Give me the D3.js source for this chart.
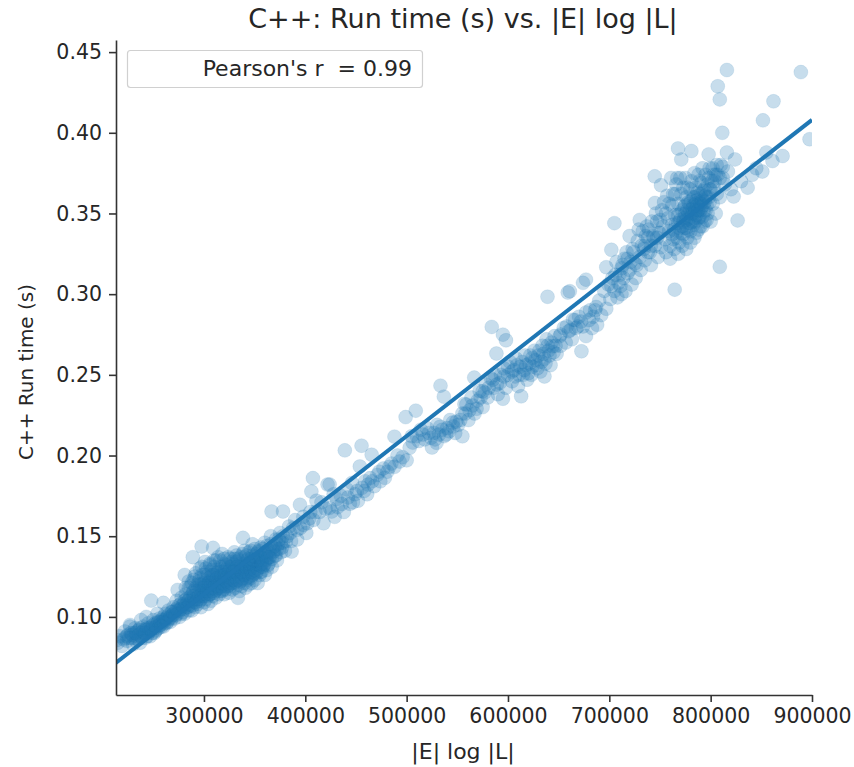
<!DOCTYPE html>
<html>
<head>
<meta charset="utf-8">
<script src="https://cdn.jsdelivr.net/npm/d3@7"></script>
<style>
body { margin: 0; background: #fff; }
text { font-family: "DejaVu Sans", sans-serif; fill: #262626; white-space: pre; }
</style>
</head>
<body>
<svg id="chart" width="854" height="767"></svg>
<script>
// [ |E| log |L| in thousands, C++ run time in s ]
var startPoints = [[215,.084],[217,.088],[219,.082],[221,.086],[222,.091],[224,.085],[225,.089],[227,.094],[228,.087],[230,.083],[231,.09],[232,.093],[234,.088],[235,.086],[236,.092],[238,.09],[239,.087],[240,.094],[241,.089],[243,.092],[244,.088],[245,.096],[246,.091],[248,.094],[249,.09],[250,.098],[251,.093],[252,.091],[254,.096],[255,.093],[256,.099],[257,.095],[259,.097],[260,.094],[248,.1101],[260,.1087],[254,.102],[227,.095],[214,.0857],[238,.098],[243,.1],[233,.085],[237,.084],[242,.087],[247,.088],[252,.096],[224,.088],[228,.09],[231,.087],[234,.091],[238,.088],[241,.092],[245,.09],[249,.093],[253,.092],[256,.095],[258,.098],[260,.097]];
var lowPoints = [[261,.098],[262,.102],[263,.096],[264,.1],[265,.104],[266,.099],[267,.097],[268,.103],[269,.101],[270,.106],[271,.099],[272,.104],[273,.11],[274,.1167],[274,.102],[275,.107],[276,.1],[277,.105],[278,.112],[279,.103],[280,.108],[281,.126],[281,.102],[282,.114],[283,.106],[284,.11],[285,.104],[285,.118],[286,.112],[287,.107],[288,.121],[288,.104],[289,.137],[289,.115],[290,.109],[291,.125],[291,.106],[292,.118],[293,.112],[294,.108],[295,.122],[295,.115],[296,.13],[296,.11],[297,.106],[297.7,.1436],[298,.118],[298,.126],[299,.113],[300,.109],[300,.121],[301,.134],[301,.116],[302,.111],[303,.128],[303,.119],[304,.108],[305,.124],[305,.114],[306,.132],[306,.117],[307,.11],[308,.126],[308,.12],[309,.1428],[309,.113],[310,.135],[310,.123],[311,.116],[312,.129],[312,.112],[313,.121],[314,.137],[314,.118],[315,.114],[316,.126],[316,.131],[317,.122],[318,.116],[318,.139],[319,.128],[320,.12],[320,.114],[321,.133],[322,.124],[322,.117],[323,.13],[324,.121],[324,.137],[325,.115],[326,.127],[326,.119],[327,.134],[328,.123],[328,.117],[329,.129],[330,.14],[330,.121],[331,.118],[332,.131],[332,.125],[333.5,.1118],[333,.136],[334,.12],[335,.128],[335,.116],[336,.133],[337,.123],[337,.119],[338.5,.149],[338,.13],[339,.126],[340,.137],[340,.121],[341,.118],[342,.132],[342,.127],[343,.123],[344,.14],[344,.12],[345,.129],[346,.134],[346,.124],[347,.121],[348,.145],[348,.131],[349,.127],[350,.137],[350,.123],[351,.132],[352,.128],[353,.121],[353,.14],[354,.134],[355,.126],[356,.131],[356,.143],[357,.128],[358,.137],[359,.132],[360,.126],[360,.146],[361,.135],[362,.129],[363,.14],[364,.133],[365,.137],[366,.15],[366.7,.1653],[367,.131],[368,.143],[370,.138],[371,.148],[372,.135],[374,.142],[375,.152],[376,.14],[378,.1653],[378,.146],[380,.141],[382,.15],[384,.156],[386.5,.1405],[386,.147],[388,.155],[390,.16],[392,.148],[394.7,.1695],[395,.155],[398,.162],[401,.152],[402,.158],[405,.165],[406,.1777],[407.5,.186],[408,.16],[411,.172],[414,.165],[418,.158],[422,.182],[424,.1676],[424,.182],[426,.1653],[429,.162],[428,.176]];
var lowCore = [[222,.087],[226,.087],[229,.089],[233,.09],[236,.089],[237,.093],[240,.091],[242,.09],[244,.093],[246,.093],[248,.092],[250,.095],[251,.09],[253,.094],[255,.097],[257,.097],[258,.094],[260,.1],[261,.096],[263,.099],[264,.097],[265,.101],[267,.1],[268,.099],[269,.103],[270,.102],[272,.101],[273,.105],[274,.104],[276,.104],[277,.108],[278,.102],[279,.107],[280,.105],[281,.11],[282,.107],[283,.111],[284,.106],[285,.11],[286,.108],[287,.113],[288,.11],[289,.107],[290,.113],[291,.111],[292,.109],[293,.116],[294,.111],[295,.113],[296,.117],[297,.111],[298,.114],[298,.12],[299,.116],[300,.113],[300,.118],[301,.122],[302,.114],[302,.119],[303,.116],[304,.121],[304,.113],[305,.118],[306,.122],[306,.114],[307,.12],[307,.125],[308,.116],[309,.122],[309,.118],[310,.115],[310,.126],[311,.12],[312,.123],[312,.117],[313,.127],[313,.119],[314,.122],[315,.118],[315,.125],[316,.121],[316,.116],[317,.128],[317,.119],[318,.124],[319,.121],[319,.117],[320,.126],[320,.123],[321,.119],[321,.129],[322,.122],[323,.125],[323,.119],[324,.128],[325,.123],[325,.12],[326,.131],[326,.124],[327,.121],[328,.127],[329,.123],[329,.132],[330,.125],[331,.128],[331,.122],[332,.134],[333,.127],[333,.123],[334,.13],[335,.125],[336,.128],[336,.122],[337,.132],[338,.127],[338,.124],[339,.13],[340,.126],[340,.133],[341,.128],[342,.124],[342,.135],[343,.13],[344,.127],[344,.133],[345,.125],[346,.13],[347,.128],[347,.136],[348,.126],[349,.132],[350,.129],[350,.135],[351,.127],[352,.133],[353,.13],[354,.137],[355,.132],[356,.128],[357,.135],[358,.131],[359,.138],[360,.133],[362,.136],[363,.132],[365,.14],[367,.136],[369,.141],[371,.138],[373,.145],[377,.143],[381,.147]];
var lowExtra = [[282,.118],[285,.122],[287,.119],[290,.123],[292,.127],[294,.12],[296,.124],[298,.131],[300,.126],[302,.13],[304,.126],[306,.133],[308,.129],[310,.131],[312,.135],[314,.128],[316,.135],[318,.131],[320,.136],[322,.132],[324,.131],[326,.136],[328,.133],[330,.136],[332,.138],[334,.135],[336,.137],[338,.139],[340,.141],[342,.138],[344,.136],[346,.141],[348,.138],[350,.142],[352,.139],[354,.141],[356,.137],[358,.142],[360,.14],[362,.144],[364,.141],[366,.145],[368,.14],[370,.144],[372,.142],[374,.148],[376,.146],[378,.15],[290,.116],[296,.12],[301,.119],[305,.121],[309,.126],[313,.124],[317,.125],[321,.126],[325,.128],[329,.128],[333,.131],[337,.128],[341,.131],[345,.133],[349,.135],[353,.135],[357,.133],[361,.138],[364,.137]];
var midPoints = [[432,.168],[435,.175],[439,.2032],[438,.165],[441,.179],[444,.1701],[446,.183],[449,.176],[452,.172],[453.8,.1932],[455.5,.2061],[456,.18],[459,.184],[461,.176],[465.5,.2005],[464,.186],[468,.181],[471,.188],[474,.184],[478.5,.1862],[477,.192],[481,.19],[485,.195],[488,.2117],[488,.193],[493,.1963],[491,.2],[496,.199],[499,.2238],[503,.2048],[500,.197],[506,.208],[509,.2278],[510,.212],[514,.216],[518,.21],[522,.214],[525,.205],[529.5,.2079],[527,.214],[530,.219],[533,.2179],[533.4,.2433],[536.7,.2365],[537,.212],[540,.217],[543,.222],[545.5,.2204],[548,.214],[551,.219],[555,.2119],[555,.226],[557,.232],[559,.2316],[562,.228],[564,.236],[566.7,.2483],[567,.226],[570,.234],[572,.24],[575,.2398],[575,.23],[578,.244],[580,.236],[584,.2797],[583,.248],[586,.242],[588.6,.2632],[587,.25],[590,.238],[592,.245],[595,.2749],[595,.2352],[596,.254],[598,.2714],[598,.242],[600,.25],[602,.258],[604,.246],[606,.253],[608,.26],[610,.243],[613,.2367],[612,.255],[615,.25],[617,.262],[619,.247],[621,.257],[624,.2605],[623,.25],[626,.265],[628,.256],[630,.262],[632,.252],[634,.268],[636,.249],[636,.26],[638,.272],[639,.2984],[640,.265],[642,.256],[644,.2677],[646,.274],[648,.263],[651,.2739],[652,.268],[655,.279],[657,.27],[661,.3018],[660,.277],[664,.2842],[663,.272],[667,.279],[670,.286],[672.5,.2646],[674,.307],[674,.28],[677,.2886],[677,.274],[680,.284],[683,.279]];
var midCore = [[596,.249],[600,.255],[604,.252],[607,.249],[609,.256],[611,.25],[614,.258],[616,.253],[618,.256],[620,.251],[622,.262],[624,.255],[627,.259],[629,.254],[631,.265],[633,.258],[635,.263],[637,.257],[639,.268],[641,.262],[643,.27],[645,.264],[647,.268]];
var midExtra = [[385,.152],[392,.154],[398,.157],[404,.161],[410,.165],[416,.171],[420,.167],[431,.173],[436,.17],[442,.174],[447,.171],[451,.178],[458,.178],[462,.182],[466,.184],[473,.19],[483,.193],[505,.212],[512,.209],[516,.213],[520,.217],[524,.211],[528,.21],[532,.213],[535,.216],[539,.213],[542,.215],[546,.218],[549,.221],[553,.222],[558,.226],[561,.222],[565,.231],[569,.229],[573,.236],[577,.239],[581,.242],[585,.247],[589,.244],[593,.25],[652,.275],[658,.28],[662,.278],[666,.284],[669,.28],[672,.283],[681,.29],[684,.286],[687,.292]];
var highPoints = [[659,.301],[677,.309],[686,.29],[688,.281],[690,.296],[692,.287],[695,.302],[697,.3167],[697,.291],[699,.306],[701,.297],[702,.3275],[703,.31],[705,.344],[705,.302],[707,.32],[708,.298],[710,.312],[711,.305],[712,.3],[713,.318],[714,.31],[716,.302],[717,.326],[718,.322],[720,.336],[720,.315],[722,.306],[723,.328],[725,.319],[726,.31],[728,.333],[730,.346],[730,.323],[731,.315],[733,.339],[734,.328],[735,.321],[737,.342],[738,.335],[740,.326],[741,.318],[743,.336],[744.8,.373],[745,.3565],[745,.33],[747,.345],[748,.323],[749,.338],[751,.3675],[751,.329],[752,.352],[753,.342],[755,.334],[756,.326],[757,.361],[758,.347],[759,.339],[760,.33],[761,.372],[762,.355],[762,.343],[763,.334],[764.5,.3028],[765,.349],[765,.362],[766,.338],[767.8,.3903],[767,.372],[768,.344],[768,.356],[769,.332],[770,.35],[771,.3835],[771,.362],[772,.342],[773,.337],[774,.354],[774,.347],[775,.372],[776,.341],[776,.36],[777,.335],[778,.35],[778,.344],[779,.356],[780,.365],[780,.339],[781,.3887],[781,.348],[782,.353],[783,.343],[783,.36],[784,.375],[784,.35],[785,.345],[785,.356],[786,.338],[787,.352],[787,.363],[788,.347],[789,.357],[789,.37],[790,.342],[790,.352],[791,.36],[792,.348],[792,.378],[793,.355],[794,.365],[794,.345],[795,.352],[796,.36],[797,.35],[798,.3866],[798,.372],[799,.357],[800,.365],[800,.345],[802,.378],[802,.356],[804,.37],[805,.35],[806,.362],[807,.4288],[807,.374],[809,.4207],[809,.317],[809,.36],[810,.38],[811.5,.4],[812,.372],[814,.368],[816,.4389],[816,.3878],[817,.376],[820,.365],[822.7,.3605],[824,.3835],[826.6,.3457],[830,.37],[836.5,.366],[841,.374],[845,.378],[851,.376],[851.6,.4077],[855,.3878],[861,.3825],[862,.4195],[871,.3856],[889,.4376],[897.6,.396]];
var highCore = [[762,.337],[764,.34],[766,.344],[767,.335],[768,.349],[769,.341],[770,.346],[771,.338],[772,.352],[773,.345],[774,.341],[775,.35],[775,.355],[776,.346],[777,.352],[778,.34],[778,.357],[779,.347],[780,.352],[780,.344],[781,.358],[782,.35],[782,.345],[783,.355],[784,.347],[784,.36],[785,.352],[786,.358],[786,.349],[787,.355],[788,.361],[788,.352],[789,.348],[790,.356],[790,.362],[791,.354],[792,.358],[793,.351],[793,.364],[794,.357],[795,.361],[796,.355],[797,.368],[798,.36],[799,.365],[801,.37],[803,.366],[805,.374],[735,.33],[738,.326],[741,.33],[744,.335],[747,.335],[750,.338]];
var highExtra = [[702,.305],[706,.312],[709,.307],[712,.316],[715,.322],[718,.313],[721,.32],[724,.326],[727,.318],[729,.34],[732,.33],[736,.336],[739,.34],[742,.345],[746,.35],[750,.346],[754,.357],[756,.35],[759,.356],[763,.362],[766,.368],[770,.372],[773,.366],[777,.366],[781,.37],[785,.366],[788,.374],[791,.369],[795,.374],[799,.378],[803,.374],[806,.38],[809,.372],[812,.379],[760,.322],[764,.328],[768,.325],[772,.33],[776,.328],[780,.332],[784,.335],[788,.34],[792,.342],[796,.346]];

var lineX = [213, 900];
var lineY = [0.0715, 0.408];

var xTicks = [300, 400, 500, 600, 700, 800, 900];
var yTicks = [0.10, 0.15, 0.20, 0.25, 0.30, 0.35, 0.40, 0.45];

var titleText = "C++: Run time (s) vs. |E| log |L|";
var xLabel = "|E| log |L|";
var yLabel = "C++ Run time (s)";
var legendText = "Pearson's r  = 0.99";

function main() {
	var svg = d3.select("#chart"),
		left = 116,
		right = 812,
		top = 40,
		bottom = 695,
		blue = "#1f77b4";

	var xScale = d3.scaleLinear().domain([213.2, 900]).range([left, right]);
	var yScale = d3.scaleLinear().domain([0.0516, 0.4575]).range([bottom, top]);

	svg.append("defs").append("clipPath").attr("id", "plotClip")
		.append("rect")
		.attr("x", left).attr("y", top)
		.attr("width", right - left).attr("height", bottom - top);

	// Scatter points
	var points = startPoints.concat(lowPoints, lowCore, lowExtra, midPoints, midCore, midExtra, highPoints, highCore, highExtra);
	var g = svg.append("g").attr("clip-path", "url(#plotClip)");
	g.selectAll("circle")
		.data(points)
		.enter().append("circle")
		.attr("cx", function(d) {return xScale(d[0]);})
		.attr("cy", function(d) {return yScale(d[1]);})
		.attr("r", 7)
		.attr("fill", blue)
		.attr("fill-opacity", 0.25)
		.attr("stroke", blue)
		.attr("stroke-opacity", 0.1);

	// Fit line
	g.append("line")
		.attr("x1", xScale(lineX[0]))
		.attr("y1", yScale(lineY[0]))
		.attr("x2", xScale(lineX[1]))
		.attr("y2", yScale(lineY[1]))
		.attr("stroke", blue)
		.attr("stroke-width", 4);

	// Axes
	var xAxis = svg.append("g")
		.attr("transform", "translate(0," + bottom + ")")
		.call(d3.axisBottom(xScale).tickValues(xTicks).tickFormat(function(d) {return d * 1000;}).tickSize(7).tickSizeOuter(0).tickPadding(6));
	var yAxis = svg.append("g")
		.attr("transform", "translate(" + left + ",0)")
		.call(d3.axisLeft(yScale).tickValues(yTicks).tickFormat(d3.format(".2f")).tickSize(7).tickSizeOuter(0).tickPadding(7));

	[xAxis, yAxis].forEach(function(axis) {
		axis.selectAll("text").attr("font-size", "20.5px").style("font-family", '"DejaVu Sans", sans-serif').style("fill", "#262626");
		axis.selectAll("path").attr("stroke", "#333").attr("stroke-width", 1.6);
		axis.selectAll("line").attr("stroke", "#333").attr("stroke-width", 1.6);
	});

	// Titles
	svg.append("text")
		.attr("x", 463).attr("y", 28)
		.attr("text-anchor", "middle")
		.attr("font-size", "27px")
		.text(titleText);
	svg.append("text")
		.attr("x", 463).attr("y", 759)
		.attr("text-anchor", "middle")
		.attr("font-size", "22px")
		.text(xLabel);
	svg.append("text")
		.attr("transform", "translate(33,372) rotate(-90)")
		.attr("text-anchor", "middle")
		.attr("font-size", "20px")
		.text(yLabel);

	// Legend box
	svg.append("rect")
		.attr("x", 127.5).attr("y", 50.5)
		.attr("width", 295).attr("height", 37)
		.attr("rx", 3)
		.attr("fill", "#fff")
		.attr("stroke", "#d0d0d0")
		.attr("stroke-width", 1.2);
	svg.append("text")
		.attr("x", 412).attr("y", 76)
		.attr("text-anchor", "end")
		.attr("font-size", "22px")
		.text(legendText);
}
main();
</script>
</body>
</html>
